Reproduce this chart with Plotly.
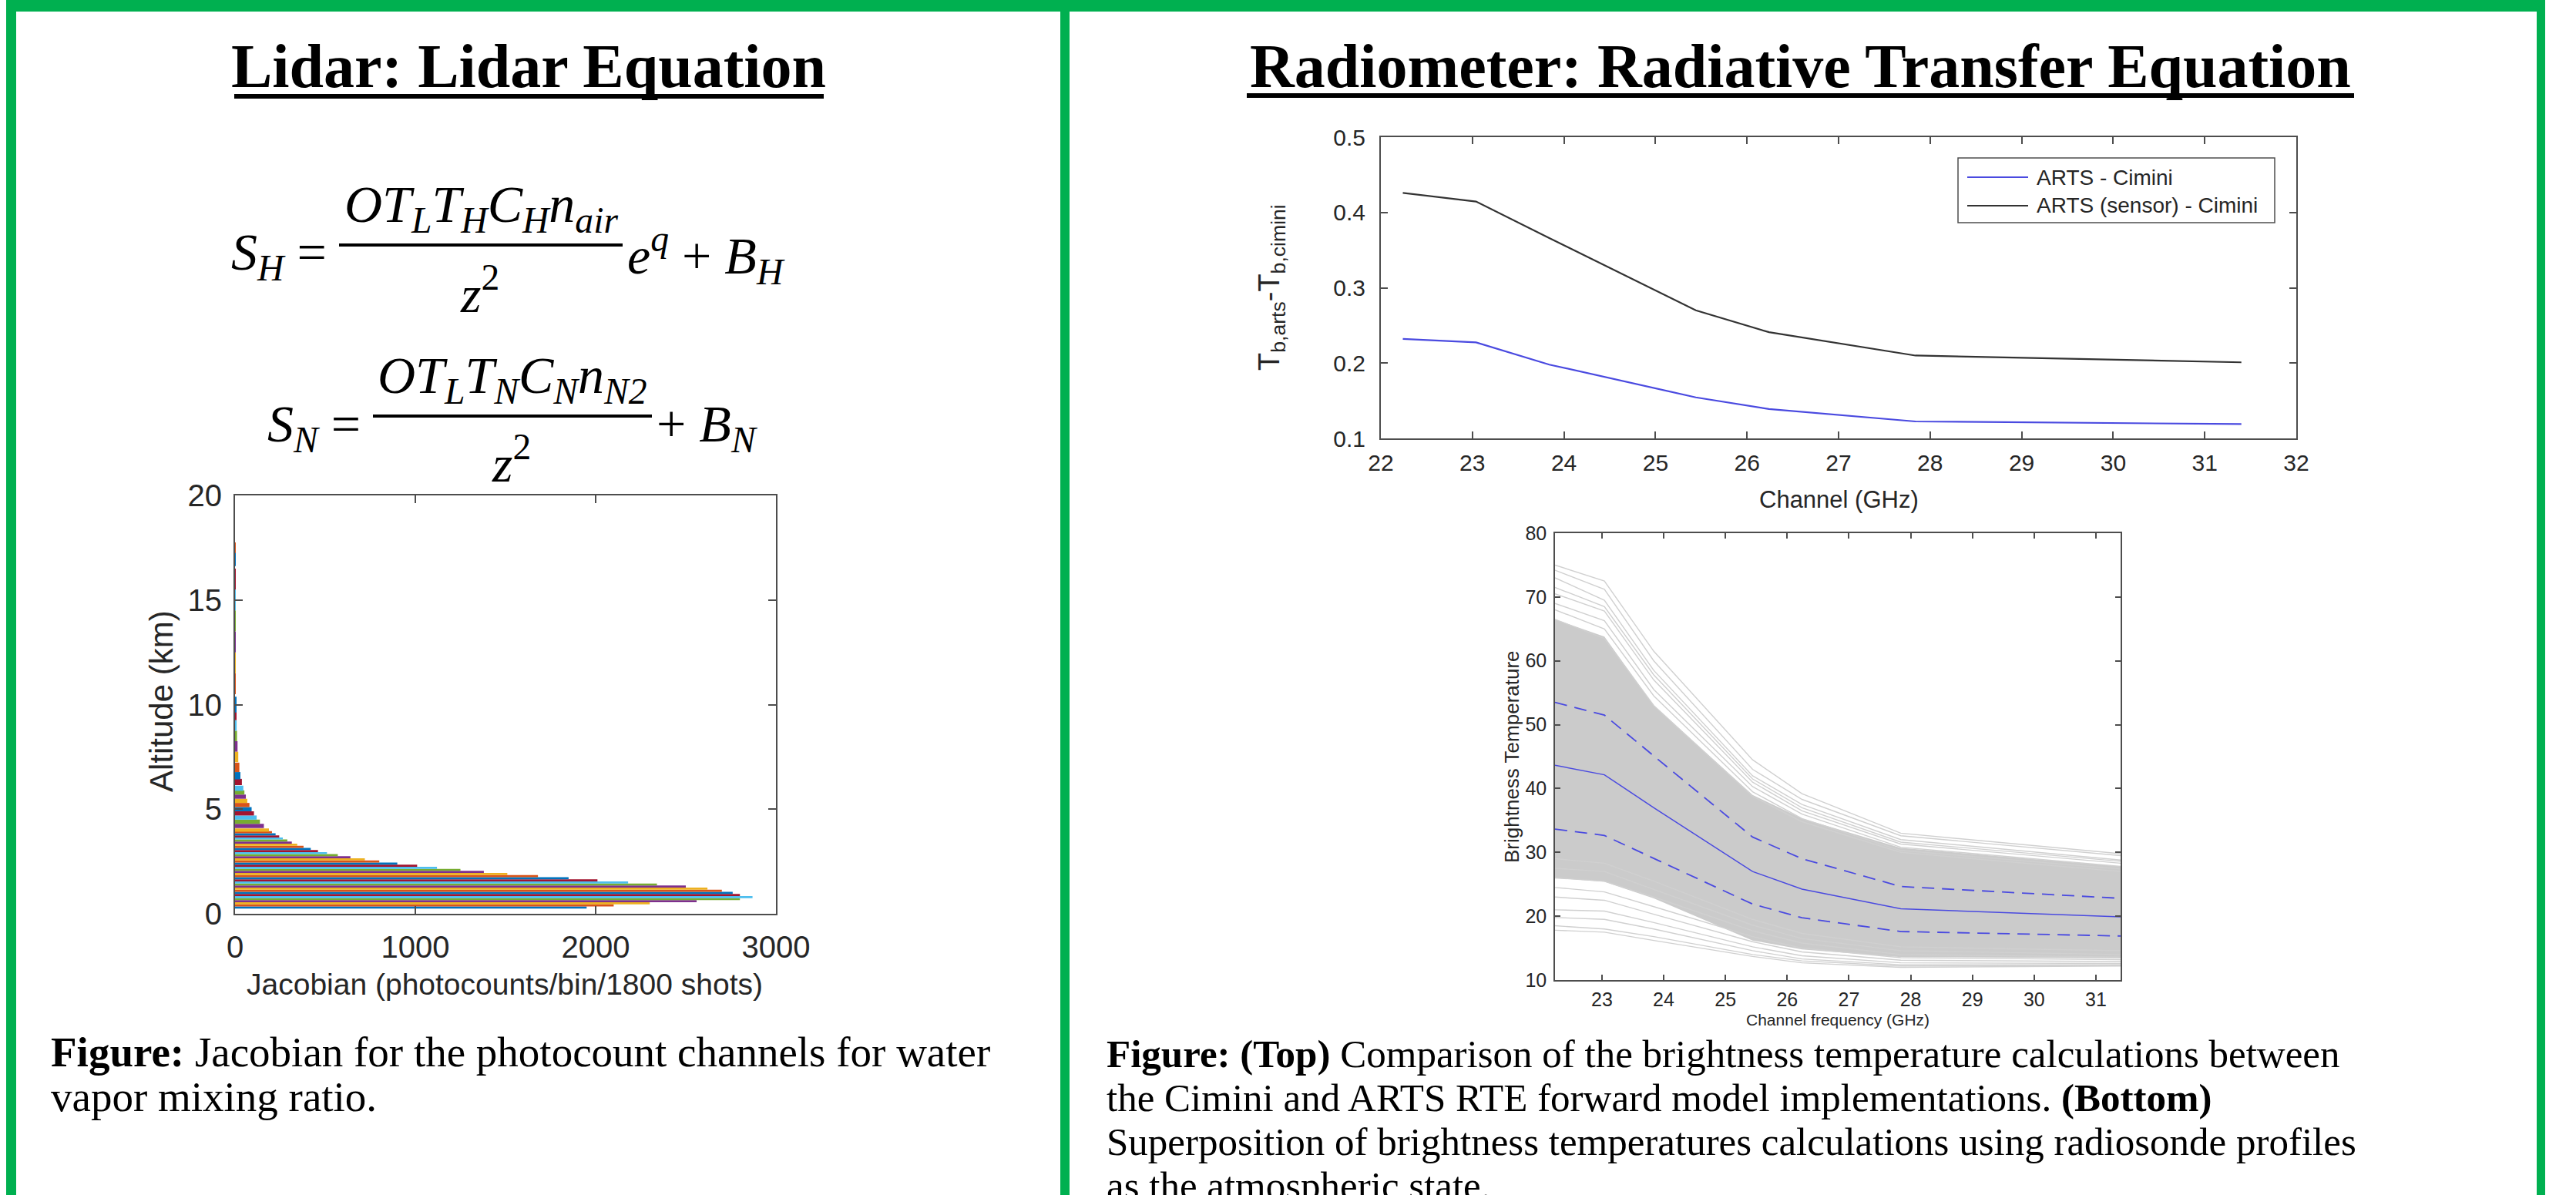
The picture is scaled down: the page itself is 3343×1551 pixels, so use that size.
import plotly.graph_objects as go

W, H = 3343, 1551


def px(x):
    return x / W


def py(y):
    return 1 - y / H


# ---------------- data ----------------
# Lidar Jacobian (envelope per altitude bin)
alt_km = [0.3, 0.4, 0.5, 0.6, 0.7, 0.8, 0.9, 1.0, 1.1, 1.2, 1.3, 1.4, 1.5, 1.6, 1.7, 1.8, 1.9,
          2.0, 2.1, 2.2, 2.3, 2.4, 2.5, 2.6, 2.7, 2.8, 2.9, 3.0, 3.1, 3.2, 3.3, 3.4, 3.5, 3.6,
          3.7, 3.8, 3.9, 4.0, 4.2, 4.4, 4.6, 4.8, 5.0, 5.2, 5.4, 5.6, 5.8, 6.0, 6.3, 6.6, 7.0,
          7.5, 8.0, 8.5, 9.0, 9.5, 10.0, 11.0, 12.0, 13.0, 14.0, 15.0, 16.0, 17.0, 17.5]
jacobian = [1950, 2100, 2300, 2560, 2800, 2870, 2800, 2760, 2700, 2620, 2500, 2340, 2180, 2010,
            1850, 1680, 1510, 1380, 1250, 1120, 1010, 900, 800, 720, 640, 570, 510, 460, 420,
            380, 345, 315, 290, 265, 245, 225, 205, 188, 160, 138, 120, 105, 92, 80, 68, 60,
            52, 46, 38, 30, 24, 18, 14, 11, 9, 7, 6, 4, 3, 2, 1.5, 1, 0.8, 0.5, 0.3]
jac_xticks = [0, 1000, 2000, 3000]
jac_yticks = [0, 5, 10, 15, 20]

# Radiometer channels
channels_ghz = [22.24, 23.04, 23.84, 25.44, 26.24, 27.84, 31.40]
arts_minus_cimini = [0.232, 0.2275, 0.198, 0.1545, 0.139, 0.1225, 0.119]
arts_sensor_minus_cimini = [0.426, 0.4145, 0.366, 0.270, 0.241, 0.210, 0.201]
top_xticks = [22, 23, 24, 25, 26, 27, 28, 29, 30, 31, 32]
top_yticks = [0.1, 0.2, 0.3, 0.4, 0.5]

# Brightness temperatures from radiosonde profiles
tb_mean = [43.65, 42.15, 37.0, 27.0, 24.25, 21.15, 19.9]
tb_mean_plus_std = [53.5, 51.5, 45.1, 32.4, 29.0, 24.65, 22.8]
tb_mean_minus_std = [33.65, 32.65, 29.05, 21.9, 19.75, 17.6, 16.9]
tb_dense_upper = [66.5, 63.8, 53.0, 39.0, 35.3, 30.7, 27.8]
tb_dense_lower = [26.0, 25.4, 22.8, 16.2, 14.8, 13.6, 13.4]
tb_profiles = [
    [75.0, 72.5, 61.5, 44.5, 39.2, 33.0, 29.8],
    [74.2, 71.2, 60.0, 43.0, 38.3, 32.6, 29.5],
    [73.0, 69.5, 58.5, 42.0, 37.5, 32.0, 28.8],
    [71.5, 68.5, 57.8, 41.5, 37.0, 31.6, 28.6],
    [70.5, 67.8, 57.0, 41.0, 36.5, 31.3, 28.3],
    [69.0, 66.3, 55.5, 40.3, 36.0, 30.8, 27.8],
    [68.0, 65.0, 54.5, 39.5, 35.3, 30.3, 27.4],
    [66.5, 63.5, 53.0, 38.8, 34.8, 30.0, 27.0],
    [29.0, 28.3, 25.5, 19.5, 17.3, 15.2, 14.6],
    [27.5, 27.0, 24.2, 18.6, 16.5, 14.6, 14.0],
    [26.0, 25.5, 23.0, 17.7, 15.8, 14.0, 13.6],
    [24.5, 23.8, 21.5, 16.8, 15.0, 13.5, 13.2],
    [23.0, 22.5, 20.3, 16.0, 14.4, 13.1, 12.9],
    [21.0, 20.8, 19.0, 15.2, 13.8, 12.7, 12.6],
    [19.8, 19.5, 18.0, 14.6, 13.3, 12.4, 12.4],
    [18.5, 18.0, 16.8, 14.0, 13.0, 12.2, 12.3],
    [17.8, 17.5, 16.2, 13.7, 12.7, 12.0, 12.2],
]
bot_xticks = [23, 24, 25, 26, 27, 28, 29, 30, 31]
bot_yticks = [10, 20, 30, 40, 50, 60, 70, 80]

# text content
left_title = "Lidar: Lidar Equation"
right_title = "Radiometer: Radiative Transfer Equation"
left_caption = ["<b>Figure:</b> Jacobian for the photocount channels for water",
                "vapor mixing ratio."]
right_caption = ["<b>Figure:</b> <b>(Top)</b> Comparison of the brightness temperature calculations between",
                 "the Cimini and ARTS RTE forward model implementations. <b>(Bottom)</b>",
                 "Superposition of brightness temperatures calculations using radiosonde profiles",
                 "as the atmospheric state."]

# ---------------- styles ----------------
GREEN = "#00B050"
MATLAB = ["#0072BD", "#D95319", "#EDB120", "#7E2F8E", "#77AC30", "#4DBEEE", "#A2142F"]
AX = "#4d4d4d"
TXT = "#262626"
SANS = "Liberation Sans, Arial, sans-serif"
SERIF = "Liberation Serif, Times New Roman, serif"
BLUE = "#4a4ae0"
GRAY = "rgb(203,203,203)"

fig = go.Figure()

# Jacobian bars (one per altitude bin)
n = len(alt_km)
widths = []
for i in range(n):
    lo = alt_km[i - 1] if i > 0 else alt_km[i] - (alt_km[1] - alt_km[0])
    hi = alt_km[i + 1] if i < n - 1 else alt_km[i] + (alt_km[i] - alt_km[i - 1])
    widths.append((hi - lo) / 2)
bar_colors = [MATLAB[i % 7] for i in range(n)]
fig.add_trace(go.Bar(x=jacobian, y=alt_km, orientation="h", width=widths,
                     marker=dict(color=bar_colors, line=dict(width=0)),
                     xaxis="x", yaxis="y", showlegend=False, name="Jacobian"))

# Top-right lines
fig.add_trace(go.Scatter(x=channels_ghz, y=arts_minus_cimini, mode="lines",
                         line=dict(color=BLUE, width=2.2), name="ARTS - Cimini",
                         xaxis="x2", yaxis="y2", showlegend=False))
fig.add_trace(go.Scatter(x=channels_ghz, y=arts_sensor_minus_cimini, mode="lines",
                         line=dict(color="#333333", width=2.2), name="ARTS (sensor) - Cimini",
                         xaxis="x2", yaxis="y2", showlegend=False))

# Bottom-right spaghetti
fig.add_trace(go.Scatter(x=channels_ghz, y=tb_dense_lower, mode="lines",
                         line=dict(color=GRAY, width=0), xaxis="x3", yaxis="y3",
                         showlegend=False, hoverinfo="skip"))
fig.add_trace(go.Scatter(x=channels_ghz, y=tb_dense_upper, mode="lines", fill="tonexty",
                         fillcolor=GRAY, line=dict(color=GRAY, width=0), xaxis="x3",
                         yaxis="y3", showlegend=False, hoverinfo="skip"))
for prof in tb_profiles:
    fig.add_trace(go.Scatter(x=channels_ghz, y=prof, mode="lines",
                             line=dict(color="rgb(208,208,208)", width=1.4),
                             xaxis="x3", yaxis="y3", showlegend=False))
fig.add_trace(go.Scatter(x=channels_ghz, y=tb_mean_plus_std, mode="lines",
                         line=dict(color=BLUE, width=1.8, dash="16px,10px"),
                         xaxis="x3", yaxis="y3", showlegend=False))
fig.add_trace(go.Scatter(x=channels_ghz, y=tb_mean_minus_std, mode="lines",
                         line=dict(color=BLUE, width=1.8, dash="16px,10px"),
                         xaxis="x3", yaxis="y3", showlegend=False))
fig.add_trace(go.Scatter(x=channels_ghz, y=tb_mean, mode="lines",
                         line=dict(color=BLUE, width=1.5),
                         xaxis="x3", yaxis="y3", showlegend=False))


def axis(domain, rng, tickvals, size, standoff, anchor, ticklen=10, fmt=None, width=2):
    d = dict(domain=domain, range=rng, tickvals=tickvals, ticks="inside", ticklen=ticklen,
             tickcolor=AX, tickwidth=width, showline=True, linecolor=AX, linewidth=width,
             mirror="ticks", showgrid=False, zeroline=False, anchor=anchor, automargin=False,
             tickfont=dict(family=SANS, size=size, color=TXT), ticklabelstandoff=standoff,
             fixedrange=True)
    if fmt:
        d["tickformat"] = fmt
    return d


layout = dict(
    width=W, height=H, margin=dict(l=0, r=0, t=0, b=0, pad=0, autoexpand=False),
    paper_bgcolor="white", plot_bgcolor="white", showlegend=False,
    xaxis=axis([px(305), px(1007)], [0, 3000], jac_xticks, 40, 7, "y"),
    yaxis=axis([py(1186), py(643)], [0, 20], jac_yticks, 40, 7, "x"),
    xaxis2=axis([px(1792), px(2980)], [22, 32], top_xticks, 30, 4, "y2", ticklen=9),
    yaxis2=axis([py(569), py(178)], [0.1, 0.5], top_yticks, 30, 12, "x2", ticklen=9, fmt=".1f"),
    xaxis3=axis([px(2018), px(2752)], [22.24, 31.4], bot_xticks, 25, 2, "y3", ticklen=7, width=1.5),
    yaxis3=axis([py(1272), py(692)], [10, 80], bot_yticks, 25, 4, "x3", ticklen=7, width=1.5),
)

shapes = []


def rect(x0, y0, x1, y1, color):
    shapes.append(dict(type="rect", xref="paper", yref="paper", x0=px(x0), x1=px(x1),
                       y0=py(y1), y1=py(y0), fillcolor=color, line=dict(width=0), layer="above"))


def hline(x0, x1, y, color, width):
    shapes.append(dict(type="line", xref="paper", yref="paper", x0=px(x0), x1=px(x1),
                       y0=py(y), y1=py(y), line=dict(color=color, width=width), layer="above"))


# green frames
rect(8, 0, 3303, 15, GREEN)
rect(8, 0, 21, H, GREEN)
rect(1376, 0, 1388, H, GREEN)
rect(3292, 0, 3303, H, GREEN)
# title underlines
rect(304, 122, 1069, 128, "black")
rect(1618, 121, 3055, 127, "black")

# equations: geometry (full-size pixel positions)
EQ = 68
E1 = 318   # fraction bar of first equation
E2 = 540   # fraction bar of second equation
hline(440, 808, E1, "black", 4)
hline(484, 846, E2, "black", 4)
# legend box and samples
shapes.append(dict(type="rect", xref="paper", yref="paper", x0=px(2541), x1=px(2952),
                   y0=py(289), y1=py(205), fillcolor="white",
                   line=dict(color=AX, width=1.5), layer="above"))
hline(2553, 2632, 230, BLUE, 2.2)
hline(2553, 2632, 267, "#333333", 2.2)

annotations = []


def text(x, y, s, size, family=SERIF, xanchor="center", yanchor="middle", color="black",
         angle=0, align="left"):
    annotations.append(dict(x=px(x), y=py(y), xref="paper", yref="paper", text=s,
                            showarrow=False, xanchor=xanchor, yanchor=yanchor,
                            textangle=angle, align=align,
                            font=dict(family=family, size=size, color=color)))


# titles
text(686, 86, "<b>" + left_title + "</b>", 80)
text(2336, 86, "<b>" + right_title + "</b>", 80)

text(426, E1 + 14, "<i>S</i><sub><i>H</i></sub> =", EQ, xanchor="right")
text(624, E1 - 4, "<i>OT</i><sub><i>L</i></sub><i>T</i><sub><i>H</i></sub><i>C</i><sub><i>H</i></sub>"
     "<i>n</i><sub><i>air</i></sub>", EQ, yanchor="bottom")
text(622, E1 + 14, "<i>z</i><sup>2</sup>", EQ, yanchor="top")
text(812, E1 + 14, "<i>e</i><sup><i>q</i></sup> + <i>B</i><sub><i>H</i></sub>", EQ, xanchor="left")

text(470, E2 + 14, "<i>S</i><sub><i>N</i></sub> =", EQ, xanchor="right")
text(665, E2 - 4, "<i>OT</i><sub><i>L</i></sub><i>T</i><sub><i>N</i></sub><i>C</i><sub><i>N</i></sub>"
     "<i>n</i><sub><i>N2</i></sub>", EQ, yanchor="bottom")
text(663, E2 + 12, "<i>z</i><sup>2</sup>", EQ, yanchor="top")
text(850, E2 + 14, "+ <i>B</i><sub><i>N</i></sub>", EQ, xanchor="left")

# axis titles
text(655, 1277, "Jacobian (photocounts/bin/1800 shots)", 39, family=SANS, color=TXT)
text(209, 910, "Altitude (km)", 42, family=SANS, color=TXT, angle=-90)
text(2386, 648, "Channel (GHz)", 31, family=SANS, color=TXT)
text(1650, 373, "T<sub>b,arts</sub>-T<sub>b,cimini</sub>", 38, family=SANS, color=TXT, angle=-90)
text(2385, 1323, "Channel frequency (GHz)", 21, family=SANS, color=TXT)
text(1962, 982, "Brightness Temperature", 26, family=SANS, color=TXT, angle=-90)

# legend texts
text(2641, 230, "ARTS - Cimini", 28, family=SANS, color=TXT, xanchor="left")
text(2641, 267, "ARTS (sensor) - Cimini", 28, family=SANS, color=TXT, xanchor="left")

# captions (one annotation per line)
for k, line in enumerate(left_caption):
    text(64, 1365 + 58 * k, line, 55, xanchor="left")
for k, line in enumerate(right_caption):
    text(1434, 1368 + 57 * k, line, 51, xanchor="left")

layout["shapes"] = shapes
layout["annotations"] = annotations
fig.update_layout(**layout)
fig.write_html("out.html")
